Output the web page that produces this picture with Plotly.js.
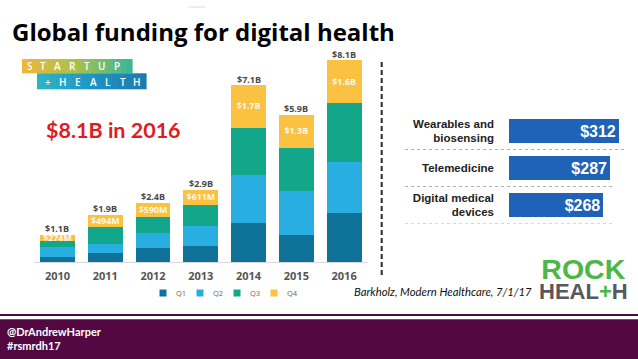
<!DOCTYPE html>
<html><head><meta charset="utf-8">
<script src="https://cdn.plot.ly/plotly-3.0.1.min.js"></script>
<style>html,body{margin:0;padding:0;background:#fff}#chart{width:638px;height:359px}</style>
</head><body><div id="chart"></div>
<script>
// ---- data ----
const years = ['2010', '2011', '2012', '2013', '2014', '2015', '2016'];
const q1 = [0.21, 0.37, 0.58, 0.64, 1.55, 1.10, 1.95];
const q2 = [0.40, 0.34, 0.60, 0.82, 1.95, 1.75, 2.05];
const q3 = [0.22, 0.70, 0.62, 0.83, 1.90, 1.75, 2.40];
const q4 = [0.274, 0.494, 0.59, 0.611, 1.70, 1.30, 1.70];
const q4Labels = ['$274M', '$494M', '$590M', '$611M', '$1.7B', '$1.3B', '$1.6B'];
const totalLabels = ['$1.1B', '$1.9B', '$2.4B', '$2.9B', '$7.1B', '$5.9B', '$8.1B'];
const quarterNames = ['Q1', 'Q2', 'Q3', 'Q4'];

const techCats = ['Wearables and<br>biosensing', 'Telemedicine', 'Digital medical<br>devices'];
const techValues = [312, 287, 268];
const techLabels = ['$312', '$287', '$268'];

// ---- style ----
const W = 638, H = 359;
const px = x => x / W, py = y => 1 - y / H;
const qColors = ['#0f7298', '#28aee0', '#12a78a', '#fbc242'];
const totals = years.map((_, i) => q1[i] + q2[i] + q3[i] + q4[i]);
const qSeries = [q1, q2, q3, q4];

const traces = qSeries.map((q, k) => {
  const t = {
    type: 'bar', x: years, y: q, name: quarterNames[k], width: 0.73,
    marker: {color: qColors[k]}, xaxis: 'x', yaxis: 'y', hoverinfo: 'skip', showlegend: false
  };
  if (k === 3) {
    Object.assign(t, {
      text: q4Labels, textposition: 'inside', insidetextanchor: 'middle', constraintext: 'none',
      textfont: {family: 'Open Sans', size: 8.8, color: 'rgba(255,255,255,0.92)', weight: 700}
    });
  }
  return t;
});
traces.push({
  type: 'bar', orientation: 'h', x: techValues, y: techCats, width: 0.63,
  marker: {color: '#1f63b8'}, xaxis: 'x2', yaxis: 'y2', hoverinfo: 'skip', showlegend: false,
  text: techLabels, textposition: 'inside', insidetextanchor: 'end', constraintext: 'none',
  textfont: {family: 'Liberation Sans', size: 16, color: '#ffffff', weight: 700}
});

const shapes = [];
const annotations = [];

// totals above the stacks (placed through the data axes; x = category index)
years.forEach((yr, i) => annotations.push({xref: 'x', yref: 'y', x: i, y: totals[i], yanchor: 'middle', yshift: 6.2,
  xanchor: 'center', showarrow: false, text: totalLabels[i],
  font: {family: 'Open Sans', size: 9, color: '#4a4a4a', weight: 700}}));

// faint mark at top
shapes.push({type: 'line', xref: 'paper', yref: 'paper', x0: px(188), x1: px(205), y0: py(7), y1: py(7), line: {color: '#dddddd', width: 1}});

// StartUp Health logo: gradient rows built from slices
function hex2rgb(h) { return [1, 3, 5].map(i => parseInt(h.substr(i, 2), 16)); }
function mix(stops, t) {
  const n = stops.length - 1, s = Math.min(Math.floor(t * n), n - 1), f = t * n - s;
  const a = hex2rgb(stops[s]), b = hex2rgb(stops[s + 1]);
  return 'rgb(' + a.map((v, i) => Math.round(v + (b[i] - v) * f)).join(',') + ')';
}
function gradRow(x0, x1, y0, y1, stops, n) {
  const w = (x1 - x0) / n;
  for (let i = 0; i < n; i++) {
    shapes.push({type: 'rect', xref: 'paper', yref: 'paper', x0: px(x0 + i * w), x1: px(x0 + (i + 1) * w + 0.6),
      y0: py(y1), y1: py(y0), fillcolor: mix(stops, (i + 0.5) / n), line: {width: 0}});
  }
}
gradRow(22, 132, 59, 73.3, ['#f2b63c', '#a8c04b', '#35b79b'], 22);
gradRow(37, 146, 73.3, 89.3, ['#2db5c2', '#1f94c6', '#1c7aab'], 22);
const topLetters = ['S', 'T', 'A', 'R', 'T', 'U', 'P'];
const botLetters = ['+', 'H', 'E', 'A', 'L', 'T', 'H'];
const topX = [30, 43, 57.5, 72.5, 87, 101.7, 117];
const botX = [47.7, 63.3, 78, 93.3, 108, 122.7, 137.3];
topLetters.forEach((c, i) => annotations.push({xref: 'paper', yref: 'paper', x: px(topX[i]), y: py(66.3), text: c, showarrow: false,
  xanchor: 'center', yanchor: 'middle', font: {family: 'Open Sans', size: 10, color: '#ffffff', weight: 600}}));
botLetters.forEach((c, i) => annotations.push({xref: 'paper', yref: 'paper', x: px(botX[i]), y: py(81.5), text: c, showarrow: false,
  xanchor: 'center', yanchor: 'middle', font: {family: 'Open Sans', size: 10, color: '#ffffff', weight: 600}}));

// headline
annotations.push({xref: 'paper', yref: 'paper', x: px(44), y: py(130), xanchor: 'left', yanchor: 'middle', showarrow: false,
  text: '$8.1B in 2016', font: {family: 'Lato', size: 21.5, color: '#e01b22', weight: 700}});

// legend (Q1..Q4)
const legX = [163, 200, 237, 274];
legX.forEach((x, k) => {
  shapes.push({type: 'rect', xref: 'paper', yref: 'paper', x0: px(x - 3.5), x1: px(x + 3.5), y0: py(296.5), y1: py(289.5),
    fillcolor: qColors[k], line: {width: 0}});
  annotations.push({xref: 'paper', yref: 'paper', x: px(x + 11), y: py(293), xanchor: 'left', yanchor: 'middle', showarrow: false,
    text: quarterNames[k], font: {family: 'Open Sans', size: 7.5, color: '#666666'}});
});

// dashed divider
shapes.push({type: 'line', xref: 'paper', yref: 'paper', x0: px(381.7), x1: px(381.7), y0: py(62), y1: py(276),
  line: {color: '#2a2a2a', width: 2, dash: '5px,3px'}});

// dotted separators in right chart
[[0.5, 627], [1.5, 613], [2.5, 613]].forEach(([yv, xe]) => shapes.push({type: 'line', xref: 'paper', yref: 'y2',
  x0: px(405), x1: px(xe), y0: yv, y1: yv, line: {color: '#b0b0b0', width: 1, dash: 'dot'}}));

// citation
annotations.push({xref: 'paper', yref: 'paper', x: px(352), y: py(291), xanchor: 'left', yanchor: 'middle', showarrow: false,
  text: '<i>Barkholz, Modern Healthcare, 7/1/17</i>', font: {family: 'Lato', size: 11.3, color: '#111111'}});

// Rock Health logo (one two-line text)
annotations.push({xref: 'paper', yref: 'paper', x: px(583.5), y: py(278), xanchor: 'center', yanchor: 'middle', showarrow: false,
  align: 'center',
  text: '<span style="font-size:28.5px;color:#4cb748">ROCK</span><br><span style="font-size:22px">HEAL<span style="color:#4cb748">+</span>H</span>',
  font: {family: 'Liberation Sans', size: 15.5, color: '#58595b', weight: 700}});

// footer
shapes.push({type: 'rect', xref: 'paper', yref: 'paper', x0: 0, x1: 1, y0: py(316), y1: py(314), fillcolor: '#540842', line: {width: 0}});
shapes.push({type: 'rect', xref: 'paper', yref: 'paper', x0: 0, x1: 1, y0: 0, y1: py(319.3), fillcolor: '#540842', line: {width: 0}});
annotations.push({xref: 'paper', yref: 'paper', x: px(5), y: py(331.7), xanchor: 'left', yanchor: 'middle', showarrow: false,
  text: '@DrAndrewHarper', font: {family: 'Lato', size: 11, color: '#ffffff', weight: 700}});
annotations.push({xref: 'paper', yref: 'paper', x: px(5), y: py(345.5), xanchor: 'left', yanchor: 'middle', showarrow: false,
  text: '#rsmrdh17', font: {family: 'Lato', size: 11, color: '#ffffff', weight: 700}});

const layout = {
  width: W, height: H, margin: {l: 0, r: 0, t: 0, b: 0}, paper_bgcolor: '#ffffff', plot_bgcolor: 'rgba(0,0,0,0)',
  barmode: 'stack', showlegend: false,
  title: {text: 'Global funding for digital health', x: px(12), xanchor: 'left', y: py(32.5), yanchor: 'middle',
    font: {family: 'Open Sans', size: 24, color: '#000000', weight: 700}},
  xaxis: {domain: [px(33.6), px(368)], type: 'category', range: [-0.5, 6.5], showgrid: false, zeroline: false,
    showline: true, linecolor: '#d8d8d8', linewidth: 1, ticks: '', ticklabelstandoff: 4,
    tickfont: {family: 'Open Sans', size: 11, color: '#555555', weight: 700}, anchor: 'y', fixedrange: true},
  yaxis: {domain: [py(262), py(38)], range: [0, 9], visible: false, fixedrange: true},
  xaxis2: {domain: [px(509), px(628.7)], range: [0, 340], visible: false, anchor: 'y2', fixedrange: true},
  yaxis2: {domain: [py(223.5), py(112.5)], type: 'category', range: [2.5, -0.5], showgrid: false, zeroline: false,
    showline: false, ticks: '', ticklabelstandoff: 14, anchor: 'x2',
    tickfont: {family: 'Liberation Sans', size: 11.5, color: '#222222', weight: 700}, fixedrange: true},
  shapes: shapes, annotations: annotations
};

Plotly.newPlot('chart', traces, layout, {displayModeBar: false, staticPlot: true});
</script></body></html>
